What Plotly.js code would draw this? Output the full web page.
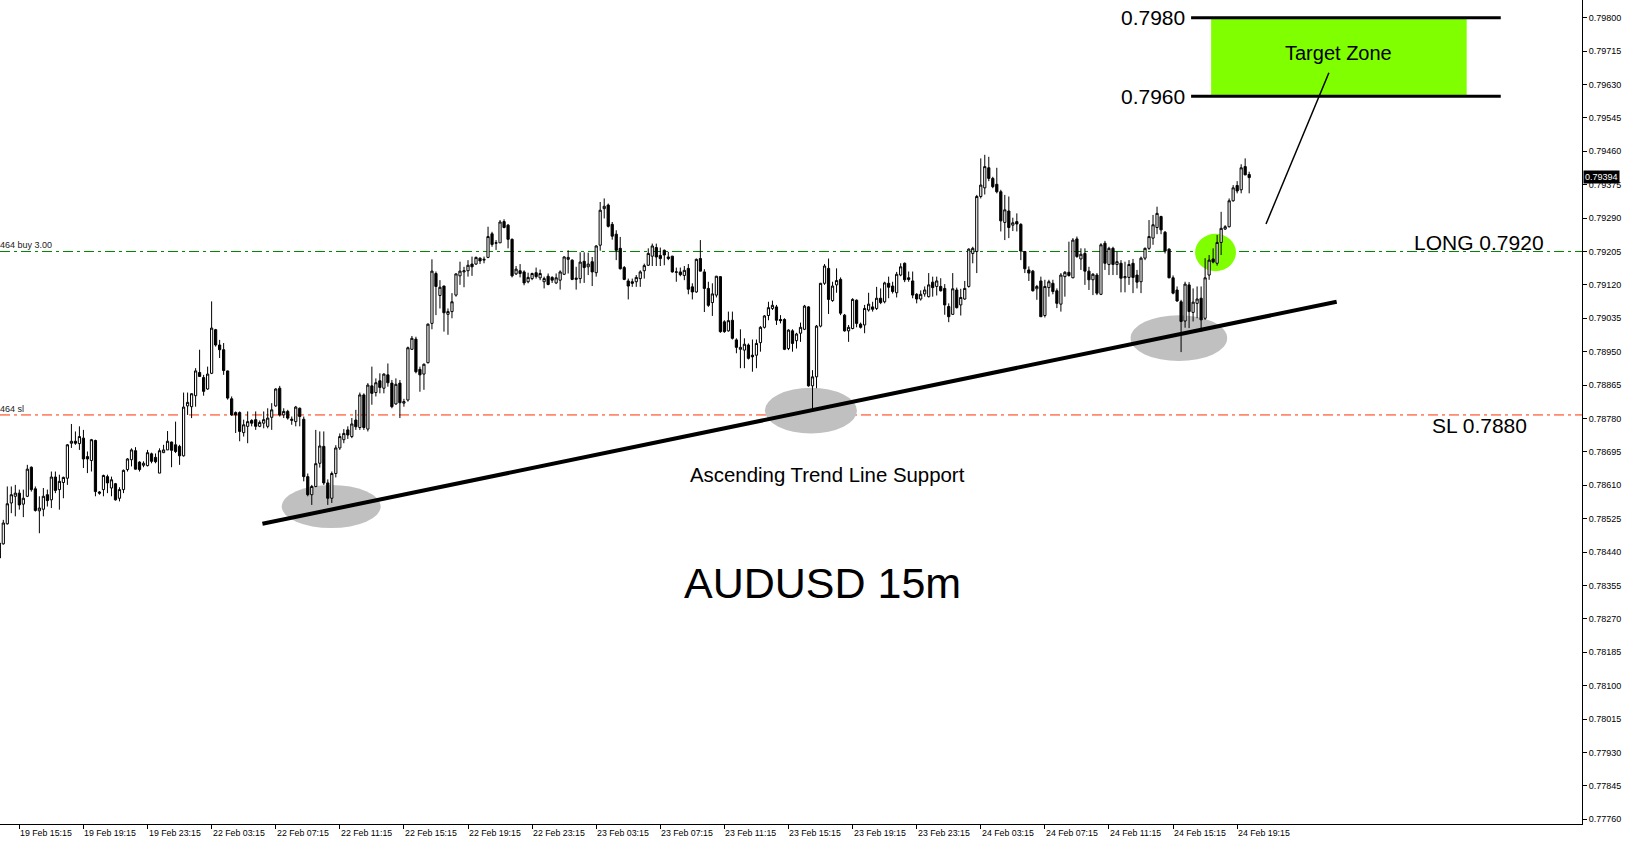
<!DOCTYPE html>
<html><head><meta charset="utf-8">
<script src="https://cdn.plot.ly/plotly-3.0.1.min.js"></script>
<style>html,body{margin:0;padding:0;background:#fff;overflow:hidden}#chart{width:1626px;height:843px}</style>
</head><body><div id="chart"></div>
<script>
// AUDUSD 15m candles (bar order, oldest first)
const openP = [
0.78463,0.78461,0.78512,0.78565,0.78582,0.78590,0.78562,0.78582,0.78656,0.78601,
0.78545,0.78549,0.78586,0.78573,0.78631,0.78599,0.78617,0.78628,0.78717,0.78722,
0.78716,0.78730,0.78683,0.78673,0.78724,0.78593,0.78599,0.78632,0.78603,0.78614,
0.78577,0.78599,0.78650,0.78675,0.78698,0.78669,0.78661,0.78660,0.78690,0.78681,
0.78641,0.78693,0.78700,0.78720,0.78713,0.78709,0.78685,0.78812,0.78810,0.78838,
0.78897,0.78884,0.78855,0.78895,0.79006,0.78967,0.78955,0.78901,0.78830,0.78795,
0.78795,0.78744,0.78760,0.78775,0.78777,0.78760,0.78768,0.78760,0.78783,0.78812,
0.78857,0.78789,0.78798,0.78775,0.78772,0.78806,0.78778,0.78632,0.78586,0.78607,
0.78666,0.78709,0.78616,0.78577,0.78640,0.78705,0.78726,0.78751,0.78734,0.78776,
0.78757,0.78840,0.78753,0.78863,0.78846,0.78876,0.78857,0.78891,0.78870,0.78817,
0.78870,0.78819,0.78827,0.78956,0.78982,0.78905,0.78893,0.78922,0.79022,0.79149,
0.79093,0.79117,0.79045,0.79052,0.79094,0.79143,0.79153,0.79156,0.79173,0.79173,
0.79188,0.79183,0.79190,0.79250,0.79226,0.79227,0.79281,0.79272,0.79236,0.79148,
0.79156,0.79153,0.79128,0.79136,0.79151,0.79138,0.79128,0.79142,0.79139,0.79125,
0.79132,0.79147,0.79185,0.79183,0.79134,0.79136,0.79180,0.79166,0.79179,0.79151,
0.79221,0.79314,0.79323,0.79274,0.79249,0.79213,0.79164,0.79130,0.79128,0.79128,
0.79136,0.79156,0.79170,0.79193,0.79215,0.79195,0.79208,0.79191,0.79193,0.79152,
0.79153,0.79144,0.79162,0.79115,0.79102,0.79187,0.79153,0.79111,0.79075,0.79094,
0.79141,0.79026,0.79003,0.79030,0.78980,0.78956,0.78954,0.78967,0.78941,0.78941,
0.78973,0.79012,0.79042,0.79060,0.79064,0.79032,0.79032,0.78958,0.79003,0.78978,
0.78997,0.79007,0.79064,0.78863,0.78886,0.79015,0.79124,0.79162,0.79080,0.79120,
0.79134,0.79043,0.79003,0.79009,0.79081,0.79020,0.79018,0.79056,0.79064,0.79060,
0.79086,0.79077,0.79124,0.79117,0.79100,0.79145,0.79175,0.79138,0.79130,0.79096,
0.79084,0.79097,0.79090,0.79127,0.79116,0.79116,0.79111,0.79065,0.79045,0.79107,
0.79069,0.79084,0.79116,0.79200,0.79205,0.79345,0.79367,0.79418,0.79391,0.79376,
0.79357,0.79279,0.79308,0.79272,0.79281,0.79274,0.79205,0.79158,0.79155,0.79110,
0.79130,0.79042,0.79113,0.79124,0.79105,0.79071,0.79141,0.79152,0.79138,0.79237,
0.79186,0.79200,0.79155,0.79133,0.79145,0.79096,0.79226,0.79172,0.79213,0.79172,
0.79175,0.79138,0.79139,0.79175,0.79145,0.79128,0.79188,0.79213,0.79239,0.79266,
0.79294,0.79254,0.79211,0.79138,0.79107,0.79077,0.79028,0.79120,0.79050,0.79073,
0.79086,0.79035,0.79145,0.79186,0.79175,0.79228,0.79262,0.79268,0.79334,0.79373,
0.79362,0.79421,0.79401];
const highP = [
0.78470,0.78522,0.78607,0.78607,0.78611,0.78599,0.78599,0.78662,0.78658,0.78607,
0.78582,0.78603,0.78599,0.78645,0.78645,0.78637,0.78632,0.78715,0.78766,0.78747,
0.78760,0.78751,0.78696,0.78728,0.78726,0.78595,0.78637,0.78637,0.78632,0.78616,
0.78605,0.78650,0.78679,0.78704,0.78707,0.78671,0.78671,0.78700,0.78693,0.78691,
0.78704,0.78713,0.78748,0.78721,0.78772,0.78713,0.78846,0.78846,0.78844,0.78908,
0.78955,0.78891,0.78912,0.79078,0.79008,0.78980,0.78972,0.78902,0.78836,0.78798,
0.78798,0.78777,0.78798,0.78778,0.78798,0.78775,0.78798,0.78806,0.78819,0.78857,
0.78863,0.78806,0.78802,0.78785,0.78812,0.78808,0.78785,0.78640,0.78611,0.78751,
0.78747,0.78747,0.78625,0.78645,0.78712,0.78742,0.78753,0.78760,0.78781,0.78802,
0.78846,0.78844,0.78870,0.78912,0.78882,0.78895,0.78895,0.78920,0.78878,0.78882,
0.78878,0.78830,0.78963,0.78990,0.78988,0.78912,0.78920,0.79022,0.79185,0.79154,
0.79132,0.79118,0.79060,0.79099,0.79149,0.79179,0.79166,0.79183,0.79192,0.79192,
0.79190,0.79192,0.79268,0.79255,0.79234,0.79285,0.79287,0.79275,0.79238,0.79168,
0.79173,0.79157,0.79151,0.79151,0.79164,0.79159,0.79141,0.79149,0.79142,0.79149,
0.79157,0.79193,0.79208,0.79185,0.79166,0.79203,0.79203,0.79202,0.79191,0.79221,
0.79331,0.79340,0.79327,0.79280,0.79259,0.79242,0.79168,0.79136,0.79136,0.79145,
0.79157,0.79174,0.79213,0.79225,0.79225,0.79215,0.79210,0.79204,0.79194,0.79164,
0.79164,0.79168,0.79173,0.79124,0.79187,0.79234,0.79160,0.79128,0.79124,0.79143,
0.79142,0.79030,0.79052,0.79052,0.78984,0.79007,0.78984,0.78971,0.78981,0.78981,
0.79015,0.79043,0.79077,0.79080,0.79069,0.79043,0.79035,0.79007,0.79007,0.78998,
0.79024,0.79069,0.79066,0.78903,0.79018,0.79125,0.79173,0.79187,0.79128,0.79162,
0.79139,0.79046,0.79018,0.79086,0.79083,0.79024,0.79069,0.79100,0.79077,0.79115,
0.79111,0.79128,0.79141,0.79128,0.79153,0.79175,0.79177,0.79154,0.79154,0.79099,
0.79106,0.79116,0.79150,0.79141,0.79141,0.79137,0.79122,0.79073,0.79150,0.79113,
0.79110,0.79130,0.79213,0.79217,0.79349,0.79442,0.79451,0.79446,0.79395,0.79418,
0.79362,0.79349,0.79345,0.79291,0.79302,0.79277,0.79206,0.79167,0.79158,0.79120,
0.79141,0.79133,0.79133,0.79133,0.79111,0.79150,0.79155,0.79230,0.79239,0.79243,
0.79213,0.79213,0.79166,0.79150,0.79150,0.79226,0.79232,0.79217,0.79217,0.79205,
0.79183,0.79179,0.79183,0.79186,0.79158,0.79192,0.79215,0.79285,0.79298,0.79319,
0.79296,0.79257,0.79213,0.79144,0.79116,0.79082,0.79128,0.79127,0.79111,0.79116,
0.79116,0.79188,0.79196,0.79213,0.79247,0.79306,0.79272,0.79340,0.79374,0.79384,
0.79427,0.79442,0.79408];
const lowP = [
0.78410,0.78459,0.78510,0.78539,0.78531,0.78548,0.78529,0.78580,0.78594,0.78543,
0.78488,0.78531,0.78556,0.78552,0.78590,0.78548,0.78577,0.78611,0.78705,0.78713,
0.78700,0.78654,0.78641,0.78645,0.78582,0.78586,0.78582,0.78590,0.78582,0.78571,
0.78569,0.78590,0.78645,0.78658,0.78650,0.78645,0.78656,0.78658,0.78666,0.78666,
0.78641,0.78692,0.78700,0.78656,0.78692,0.78662,0.78683,0.78789,0.78781,0.78810,
0.78886,0.78838,0.78853,0.78893,0.78963,0.78934,0.78891,0.78828,0.78787,0.78743,
0.78722,0.78734,0.78717,0.78760,0.78751,0.78758,0.78755,0.78755,0.78751,0.78810,
0.78785,0.78781,0.78777,0.78764,0.78760,0.78760,0.78620,0.78582,0.78560,0.78605,
0.78655,0.78611,0.78560,0.78565,0.78630,0.78700,0.78717,0.78728,0.78730,0.78751,
0.78751,0.78751,0.78747,0.78815,0.78836,0.78844,0.78844,0.78861,0.78806,0.78815,
0.78781,0.78810,0.78823,0.78956,0.78895,0.78848,0.78853,0.78920,0.79007,0.79043,
0.79060,0.79001,0.78993,0.79035,0.79090,0.79120,0.79114,0.79141,0.79143,0.79171,
0.79173,0.79175,0.79188,0.79217,0.79209,0.79227,0.79264,0.79213,0.79139,0.79145,
0.79139,0.79119,0.79124,0.79132,0.79136,0.79132,0.79111,0.79119,0.79125,0.79122,
0.79108,0.79145,0.79149,0.79132,0.79108,0.79124,0.79125,0.79145,0.79117,0.79141,
0.79207,0.79289,0.79266,0.79235,0.79183,0.79159,0.79132,0.79083,0.79115,0.79115,
0.79115,0.79136,0.79168,0.79168,0.79168,0.79168,0.79170,0.79183,0.79151,0.79128,
0.79142,0.79132,0.79096,0.79083,0.79100,0.79155,0.79051,0.79064,0.79041,0.79088,
0.78998,0.78998,0.79001,0.78981,0.78946,0.78908,0.78908,0.78930,0.78899,0.78908,
0.78950,0.79009,0.79030,0.79056,0.79018,0.79022,0.78954,0.78954,0.78950,0.78958,
0.78975,0.79005,0.78861,0.78797,0.78857,0.79012,0.79120,0.79046,0.79077,0.79100,
0.79043,0.79001,0.78975,0.79007,0.79012,0.79009,0.78997,0.79052,0.79052,0.79056,
0.79071,0.79073,0.79086,0.79098,0.79088,0.79142,0.79127,0.79128,0.79086,0.79073,
0.79080,0.79090,0.79088,0.79090,0.79093,0.79103,0.79044,0.79025,0.79044,0.79060,
0.79042,0.79082,0.79113,0.79175,0.79150,0.79340,0.79350,0.79384,0.79366,0.79353,
0.79256,0.79234,0.79239,0.79257,0.79256,0.79183,0.79150,0.79130,0.79103,0.79082,
0.79039,0.79037,0.79090,0.79096,0.79061,0.79052,0.79090,0.79141,0.79137,0.79189,
0.79158,0.79120,0.79107,0.79094,0.79094,0.79094,0.79158,0.79145,0.79145,0.79145,
0.79101,0.79101,0.79120,0.79099,0.79111,0.79099,0.79183,0.79209,0.79222,0.79249,
0.79249,0.79200,0.79137,0.79096,0.79077,0.78949,0.79011,0.79010,0.79027,0.79035,
0.79001,0.79031,0.79133,0.79175,0.79169,0.79196,0.79260,0.79266,0.79332,0.79353,
0.79353,0.79399,0.79353];
const closeP = [
0.78425,0.78514,0.78563,0.78586,0.78590,0.78560,0.78577,0.78651,0.78599,0.78546,
0.78552,0.78582,0.78571,0.78631,0.78597,0.78620,0.78630,0.78713,0.78722,0.78717,
0.78734,0.78677,0.78677,0.78726,0.78594,0.78590,0.78635,0.78616,0.78624,0.78573,
0.78599,0.78648,0.78677,0.78700,0.78651,0.78650,0.78666,0.78693,0.78671,0.78670,
0.78698,0.78700,0.78722,0.78699,0.78696,0.78685,0.78809,0.78821,0.78843,0.78901,
0.78887,0.78849,0.78893,0.79010,0.78967,0.78955,0.78902,0.78832,0.78789,0.78789,
0.78747,0.78764,0.78772,0.78768,0.78760,0.78770,0.78777,0.78781,0.78802,0.78855,
0.78789,0.78798,0.78781,0.78778,0.78809,0.78785,0.78632,0.78586,0.78607,0.78665,
0.78710,0.78616,0.78577,0.78640,0.78705,0.78734,0.78742,0.78738,0.78766,0.78759,
0.78840,0.78757,0.78865,0.78844,0.78871,0.78859,0.78893,0.78871,0.78810,0.78867,
0.78820,0.78823,0.78960,0.78984,0.78899,0.78891,0.78918,0.79020,0.79155,0.79116,
0.79114,0.79049,0.79052,0.79077,0.79148,0.79155,0.79156,0.79170,0.79166,0.79190,
0.79181,0.79185,0.79243,0.79223,0.79227,0.79280,0.79266,0.79236,0.79143,0.79160,
0.79149,0.79125,0.79139,0.79149,0.79141,0.79149,0.79136,0.79121,0.79132,0.79138,
0.79153,0.79191,0.79190,0.79134,0.79137,0.79178,0.79164,0.79173,0.79153,0.79219,
0.79310,0.79320,0.79269,0.79244,0.79208,0.79161,0.79134,0.79117,0.79124,0.79139,
0.79153,0.79169,0.79200,0.79219,0.79191,0.79187,0.79196,0.79187,0.79153,0.79153,
0.79146,0.79157,0.79109,0.79102,0.79185,0.79155,0.79111,0.79068,0.79097,0.79142,
0.79001,0.79001,0.79029,0.78984,0.78961,0.78961,0.78969,0.78933,0.78937,0.78971,
0.79012,0.79041,0.79062,0.79068,0.79030,0.79029,0.78956,0.79005,0.78971,0.78995,
0.79012,0.79066,0.78863,0.78886,0.79015,0.79124,0.79168,0.79083,0.79117,0.79131,
0.79048,0.79003,0.79012,0.79083,0.79022,0.79012,0.79060,0.79071,0.79058,0.79086,
0.79075,0.79125,0.79114,0.79103,0.79147,0.79166,0.79133,0.79134,0.79094,0.79084,
0.79096,0.79107,0.79120,0.79113,0.79130,0.79105,0.79069,0.79039,0.79110,0.79062,
0.79088,0.79111,0.79211,0.79213,0.79345,0.79374,0.79421,0.79391,0.79370,0.79357,
0.79283,0.79311,0.79266,0.79278,0.79275,0.79206,0.79161,0.79150,0.79105,0.79116,
0.79039,0.79116,0.79128,0.79103,0.79073,0.79145,0.79152,0.79144,0.79234,0.79192,
0.79198,0.79155,0.79133,0.79147,0.79099,0.79222,0.79175,0.79213,0.79172,0.79179,
0.79137,0.79141,0.79172,0.79139,0.79127,0.79188,0.79213,0.79243,0.79273,0.79302,
0.79260,0.79206,0.79138,0.79099,0.79079,0.79027,0.79122,0.79052,0.79076,0.79084,
0.79031,0.79138,0.79183,0.79178,0.79228,0.79264,0.79268,0.79334,0.79367,0.79359,
0.79418,0.79400,0.79393];

// time-axis labels (bar index of each label)
const xTickIdx = [5,21,37,53,69,85,101,117,133,149,165,181,197,213,229,245,261,277,293,309];
const xTickText = ["19 Feb 15:15","19 Feb 19:15","19 Feb 23:15","22 Feb 03:15","22 Feb 07:15",
  "22 Feb 11:15","22 Feb 15:15","22 Feb 19:15","22 Feb 23:15","23 Feb 03:15","23 Feb 07:15",
  "23 Feb 11:15","23 Feb 15:15","23 Feb 19:15","23 Feb 23:15","24 Feb 03:15","24 Feb 07:15",
  "24 Feb 11:15","24 Feb 15:15","24 Feb 19:15"];
// price axis
const yTickVals = [0.77760,0.77845,0.77930,0.78015,0.78100,0.78185,0.78270,0.78355,0.78440,
  0.78525,0.78610,0.78695,0.78780,0.78865,0.78950,0.79035,0.79120,0.79205,0.79290,0.79375,
  0.79460,0.79545,0.79630,0.79715,0.79800];
const yTickText = ["0.77760","0.77845","0.77930","0.78015","0.78100","0.78185","0.78270","0.78355","0.78440",
  "0.78525","0.78610","0.78695","0.78780","0.78865","0.78950","0.79035","0.79120","0.79205","0.79290","0.79375",
  "0.79460","0.79545","0.79630","0.79715","0.79800"];

const lastPrice = 0.79394;
const longLevel = 0.79205;
const slLevel = 0.78789;
const targetTop = 0.7980;
const targetBottom = 0.7960;
// analyst trend line (bar index, price)
const trendX = [65.68, 333.84];
const trendY = [0.78512, 0.79077];

const xIdx = openP.map((_, k) => k);

const trace = {
  type: 'candlestick', x: xIdx, open: openP, high: highP, low: lowP, close: closeP,
  increasing: {line: {color: '#000', width: 1}, fillcolor: '#ffffff'},
  decreasing: {line: {color: '#000', width: 1}, fillcolor: '#000000'},
  whiskerwidth: 0, hoverinfo: 'skip', showlegend: false
};

const F = '"Liberation Sans", Arial, sans-serif';
const shapes = [
  {type:'circle', xref:'x', yref:'y', x0:70.5, x1:95.2, y0:0.78501, y1:0.78611, fillcolor:'#C0C0C0', line:{width:0}, layer:'below'},
  {type:'circle', xref:'x', yref:'y', x0:191.1, x1:214.1, y0:0.78742, y1:0.78858, fillcolor:'#C0C0C0', line:{width:0}, layer:'below'},
  {type:'circle', xref:'x', yref:'y', x0:282.4, x1:306.5, y0:0.78926, y1:0.79043, fillcolor:'#C0C0C0', line:{width:0}, layer:'below'},
  {type:'circle', xref:'x', yref:'y', x0:298.5, x1:308.7, y0:0.79155, y1:0.79250, fillcolor:'#80FF00', line:{width:0}, layer:'below'},
  {type:'rect', xref:'x', yref:'y', x0:302.5, x1:366.3, y0:targetBottom, y1:targetTop, fillcolor:'#80FF00', line:{width:0}, layer:'below'},
  {type:'line', xref:'paper', yref:'y', x0:0, x1:1, y0:longLevel, y1:longLevel, line:{color:'#008000', width:1, dash:'10px,4px,3px,4px'}, layer:'below'},
  {type:'line', xref:'paper', yref:'y', x0:0, x1:1, y0:slLevel, y1:slLevel, line:{color:'#FF3300', width:1, dash:'10px,4px,3px,4px'}, layer:'below'},
  {type:'line', xref:'x', yref:'y', x0:297.5, x1:374.8, y0:targetTop, y1:targetTop, line:{color:'#000', width:3}, layer:'above'},
  {type:'line', xref:'x', yref:'y', x0:297.5, x1:374.8, y0:targetBottom, y1:targetBottom, line:{color:'#000', width:3}, layer:'above'},
  {type:'line', xref:'x', yref:'y', x0:trendX[0], x1:trendX[1], y0:trendY[0], y1:trendY[1], line:{color:'#000', width:4}, layer:'above'},
  {type:'line', xref:'x', yref:'y', x0:331.9, x1:316.2, y0:0.79660, y1:0.79275, line:{color:'#000', width:1.5}, layer:'above'}
];

const annotations = [
  {xref:'x', yref:'y', x:296.5, y:targetTop, xanchor:'right', yanchor:'middle', text:'0.7980', showarrow:false, font:{family:F, size:21, color:'#000'}},
  {xref:'x', yref:'y', x:296.5, y:targetBottom, xanchor:'right', yanchor:'middle', text:'0.7960', showarrow:false, font:{family:F, size:21, color:'#000'}},
  {xref:'x', yref:'y', x:334.4, y:0.79710, xanchor:'center', yanchor:'middle', text:'Target Zone', showarrow:false, font:{family:F, size:20, color:'#000'}},
  {xref:'x', yref:'y', x:386.2, y:0.79229, xanchor:'right', yanchor:'middle', text:'LONG 0.7920', showarrow:false, font:{family:F, size:21, color:'#000'}},
  {xref:'x', yref:'y', x:381.9, y:0.78763, xanchor:'right', yanchor:'middle', text:'SL 0.7880', showarrow:false, font:{family:F, size:21, color:'#000'}},
  {xref:'x', yref:'y', x:206.7, y:0.78636, xanchor:'center', yanchor:'middle', text:'Ascending Trend Line Support', showarrow:false, font:{family:F, size:20.4, color:'#000'}},
  {xref:'x', yref:'y', x:205.4, y:0.78361, xanchor:'center', yanchor:'middle', text:'AUDUSD 15m', showarrow:false, font:{family:F, size:43, color:'#000'}},
  {xref:'paper', yref:'y', x:0, y:longLevel, xanchor:'left', yanchor:'bottom', xshift:-2, yshift:-1, text:'464 buy 3.00', showarrow:false, font:{family:F, size:9, color:'#222'}},
  {xref:'paper', yref:'y', x:0, y:slLevel, xanchor:'left', yanchor:'bottom', xshift:-2, yshift:-1, text:'464 sl', showarrow:false, font:{family:F, size:9, color:'#222'}},
  {xref:'paper', yref:'y', x:1, y:lastPrice, xanchor:'left', yanchor:'middle', xshift:1, text:lastPrice.toFixed(5), showarrow:false, bgcolor:'#000', borderpad:1, font:{family:F, size:9, color:'#fff'}}
];
xTickIdx.forEach((k, j) => annotations.push({
  xref:'x', yref:'paper', x:k, y:0, xanchor:'left', yanchor:'top', xshift:-1, yshift:-2,
  text:xTickText[j], showarrow:false, font:{family:F, size:8.8, color:'#000'}
}));

const layout = {
  width:1626, height:843,
  margin:{l:0, r:44, t:0, b:19, pad:0},
  paper_bgcolor:'#fff', plot_bgcolor:'#fff',
  showlegend:false, boxgap:0.45, boxgroupgap:0,
  xaxis:{range:[0.1747, 395.08], showgrid:false, zeroline:false, showline:true, linecolor:'#000', linewidth:1,
    ticks:'outside', ticklen:4, tickcolor:'#000', tickvals:xTickIdx, showticklabels:false,
    rangeslider:{visible:false}, fixedrange:true},
  yaxis:{range:[0.77748, 0.79845], side:'right', showgrid:false, zeroline:false, showline:true, linecolor:'#000', linewidth:1,
    ticks:'outside', ticklen:4, tickcolor:'#000', tickvals:yTickVals, ticktext:yTickText,
    tickfont:{family:F, size:9, color:'#000'}, fixedrange:true},
  shapes:shapes, annotations:annotations
};

Plotly.newPlot('chart', [trace], layout, {displayModeBar:false, staticPlot:true});
</script>
</body></html>
